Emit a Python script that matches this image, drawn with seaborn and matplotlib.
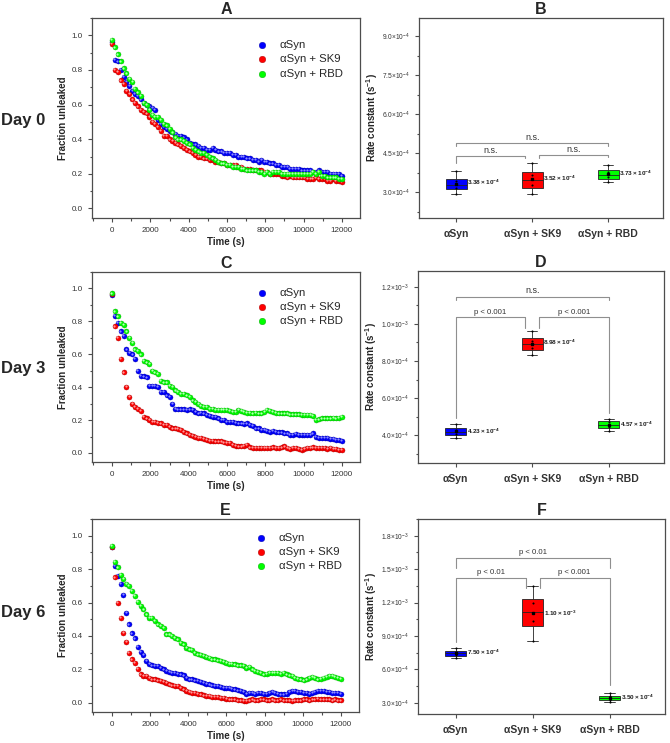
import numpy as np
import pandas as pd
import matplotlib
matplotlib.use("Agg")
import matplotlib.pyplot as plt
import matplotlib.transforms as mtransforms
from matplotlib.ticker import MultipleLocator, FuncFormatter
import seaborn as sns

sns.set_style("ticks")
plt.rcParams["font.family"] = ["Liberation Sans", "DejaVu Sans"]
plt.rcParams["mathtext.fontset"] = "custom"
plt.rcParams["mathtext.rm"] = "Liberation Sans"
plt.rcParams["mathtext.bf"] = "Liberation Sans:bold"

# ---------------------------------------------------------
# DATA
# ---------------------------------------------------------
groups = ["αSyn", "αSyn + SK9", "αSyn + RBD"]
colors = ["#0000ff", "#ff0000", "#00ff00"]
edges = ["#0000a0", "#a00000", "#00a000"]
shines = ["#8c8cff", "#ff9a9a", "#b8ffb8"]

# leakage kinetics, one reading every 150 s from 0 to 12000 s
time_s = np.arange(0, 12001, 150)

day0_syn = [0.96, 0.86, 0.85, 0.80, 0.76, 0.73, 0.71, 0.68, 0.66, 0.65,
            0.63, 0.61, 0.60, 0.59, 0.58, 0.57, 0.51, 0.49, 0.47, 0.46,
            0.45, 0.44, 0.43, 0.42, 0.42, 0.41, 0.40, 0.38, 0.37, 0.37,
            0.36, 0.35, 0.35, 0.34, 0.34, 0.35, 0.34, 0.33, 0.33, 0.32,
            0.32, 0.32, 0.31, 0.31, 0.30, 0.30, 0.30, 0.29, 0.29, 0.28,
            0.28, 0.27, 0.28, 0.27, 0.27, 0.26, 0.26, 0.25, 0.25, 0.24,
            0.24, 0.24, 0.23, 0.23, 0.23, 0.23, 0.22, 0.22, 0.22, 0.22,
            0.21, 0.21, 0.22, 0.21, 0.21, 0.21, 0.20, 0.20, 0.20, 0.20, 0.19]
day0_sk9 = [0.95, 0.80, 0.79, 0.74, 0.72, 0.68, 0.66, 0.63, 0.61, 0.59,
            0.57, 0.56, 0.55, 0.53, 0.50, 0.49, 0.47, 0.45, 0.42, 0.42,
            0.40, 0.39, 0.38, 0.37, 0.36, 0.35, 0.34, 0.33, 0.32, 0.31,
            0.30, 0.30, 0.29, 0.29, 0.28, 0.28, 0.27, 0.27, 0.26, 0.26,
            0.25, 0.25, 0.25, 0.25, 0.24, 0.24, 0.23, 0.23, 0.23, 0.22,
            0.22, 0.22, 0.22, 0.21, 0.21, 0.20, 0.20, 0.20, 0.20, 0.19,
            0.19, 0.18, 0.19, 0.18, 0.18, 0.18, 0.18, 0.18, 0.17, 0.17,
            0.17, 0.18, 0.17, 0.17, 0.17, 0.16, 0.16, 0.17, 0.16, 0.16, 0.155]
day0_rbd = [0.975, 0.93, 0.89, 0.85, 0.81, 0.78, 0.75, 0.73, 0.69, 0.67,
            0.65, 0.61, 0.60, 0.57, 0.54, 0.53, 0.53, 0.51, 0.49, 0.48,
            0.46, 0.44, 0.41, 0.40, 0.40, 0.39, 0.38, 0.37, 0.35, 0.34,
            0.33, 0.32, 0.32, 0.31, 0.30, 0.29, 0.28, 0.27, 0.26, 0.26,
            0.25, 0.25, 0.24, 0.24, 0.24, 0.23, 0.23, 0.22, 0.22, 0.22,
            0.22, 0.21, 0.21, 0.20, 0.21, 0.20, 0.21, 0.21, 0.21, 0.20,
            0.20, 0.20, 0.20, 0.20, 0.20, 0.20, 0.20, 0.20, 0.20, 0.20,
            0.21, 0.20, 0.21, 0.19, 0.19, 0.18, 0.18, 0.18, 0.18, 0.17, 0.17]

day3_syn = [0.96, 0.835, 0.79, 0.74, 0.71, 0.63, 0.61, 0.60, 0.57, 0.50,
            0.47, 0.465, 0.46, 0.41, 0.41, 0.41, 0.40, 0.37, 0.37, 0.35,
            0.34, 0.30, 0.27, 0.265, 0.265, 0.265, 0.26, 0.265, 0.26, 0.25,
            0.24, 0.245, 0.24, 0.23, 0.225, 0.22, 0.22, 0.21, 0.20, 0.20,
            0.19, 0.19, 0.19, 0.185, 0.18, 0.18, 0.175, 0.18, 0.17, 0.165,
            0.15, 0.15, 0.14, 0.14, 0.135, 0.13, 0.135, 0.13, 0.125, 0.125,
            0.12, 0.12, 0.11, 0.11, 0.115, 0.11, 0.11, 0.11, 0.11, 0.11,
            0.12, 0.10, 0.09, 0.09, 0.09, 0.09, 0.085, 0.085, 0.08, 0.08, 0.075]
day3_sk9 = [0.965, 0.77, 0.70, 0.57, 0.49, 0.40, 0.34, 0.30, 0.28, 0.27,
            0.255, 0.22, 0.21, 0.20, 0.19, 0.19, 0.185, 0.18, 0.17, 0.17,
            0.16, 0.15, 0.15, 0.145, 0.14, 0.13, 0.12, 0.11, 0.105, 0.10,
            0.09, 0.09, 0.085, 0.08, 0.075, 0.075, 0.07, 0.07, 0.07, 0.065,
            0.06, 0.06, 0.05, 0.045, 0.04, 0.04, 0.045, 0.05, 0.035, 0.03,
            0.03, 0.03, 0.03, 0.03, 0.03, 0.03, 0.035, 0.03, 0.03, 0.035,
            0.04, 0.03, 0.025, 0.03, 0.03, 0.025, 0.02, 0.025, 0.03, 0.03,
            0.035, 0.03, 0.03, 0.03, 0.03, 0.025, 0.03, 0.025, 0.025, 0.02, 0.02]
day3_rbd = [0.97, 0.86, 0.83, 0.79, 0.78, 0.74, 0.70, 0.67, 0.63, 0.62,
            0.60, 0.56, 0.55, 0.54, 0.50, 0.49, 0.48, 0.44, 0.43, 0.43,
            0.41, 0.40, 0.38, 0.37, 0.36, 0.36, 0.35, 0.34, 0.32, 0.31,
            0.30, 0.285, 0.28, 0.28, 0.27, 0.27, 0.26, 0.26, 0.26, 0.26,
            0.26, 0.255, 0.25, 0.25, 0.26, 0.255, 0.25, 0.245, 0.245, 0.24,
            0.245, 0.24, 0.24, 0.25, 0.26, 0.255, 0.25, 0.245, 0.24, 0.24,
            0.24, 0.24, 0.235, 0.235, 0.235, 0.235, 0.23, 0.23, 0.23, 0.23,
            0.225, 0.20, 0.205, 0.21, 0.21, 0.21, 0.21, 0.215, 0.21, 0.215, 0.22]

day6_syn = [0.93, 0.82, 0.76, 0.71, 0.645, 0.54, 0.47, 0.415, 0.385, 0.335,
            0.305, 0.285, 0.25, 0.235, 0.225, 0.22, 0.22, 0.21, 0.20, 0.19,
            0.185, 0.18, 0.18, 0.175, 0.17, 0.165, 0.15, 0.14, 0.14, 0.135,
            0.13, 0.125, 0.12, 0.115, 0.11, 0.105, 0.10, 0.10, 0.095, 0.09,
            0.09, 0.09, 0.085, 0.08, 0.075, 0.07, 0.065, 0.055, 0.06, 0.06,
            0.055, 0.06, 0.06, 0.055, 0.055, 0.06, 0.065, 0.06, 0.055, 0.05,
            0.05, 0.055, 0.065, 0.07, 0.07, 0.065, 0.065, 0.06, 0.06, 0.055,
            0.06, 0.065, 0.07, 0.07, 0.07, 0.065, 0.065, 0.06, 0.06, 0.06, 0.055]
day6_sk9 = [0.93, 0.75, 0.60, 0.51, 0.42, 0.365, 0.30, 0.26, 0.24, 0.205,
            0.17, 0.16, 0.16, 0.15, 0.14, 0.14, 0.135, 0.13, 0.125, 0.12,
            0.11, 0.105, 0.10, 0.10, 0.09, 0.08, 0.07, 0.065, 0.06, 0.06,
            0.055, 0.05, 0.045, 0.04, 0.04, 0.035, 0.035, 0.035, 0.03, 0.03,
            0.025, 0.02, 0.02, 0.02, 0.015, 0.015, 0.01, 0.01, 0.015, 0.02,
            0.015, 0.015, 0.02, 0.02, 0.015, 0.015, 0.02, 0.015, 0.015, 0.02,
            0.015, 0.015, 0.015, 0.01, 0.015, 0.015, 0.015, 0.02, 0.02, 0.015,
            0.02, 0.02, 0.025, 0.02, 0.02, 0.02, 0.02, 0.015, 0.02, 0.015, 0.015]
day6_rbd = [0.94, 0.845, 0.81, 0.765, 0.74, 0.71, 0.70, 0.67, 0.64, 0.605,
            0.58, 0.56, 0.53, 0.51, 0.51, 0.49, 0.47, 0.46, 0.45, 0.41,
            0.41, 0.40, 0.39, 0.38, 0.36, 0.35, 0.33, 0.32, 0.315, 0.30,
            0.29, 0.285, 0.28, 0.275, 0.27, 0.26, 0.26, 0.255, 0.25, 0.245,
            0.24, 0.235, 0.235, 0.23, 0.225, 0.225, 0.22, 0.21, 0.215, 0.20,
            0.19, 0.185, 0.18, 0.17, 0.175, 0.18, 0.18, 0.18, 0.18, 0.175,
            0.18, 0.17, 0.165, 0.16, 0.15, 0.145, 0.14, 0.135, 0.14, 0.15,
            0.155, 0.15, 0.14, 0.145, 0.15, 0.155, 0.16, 0.16, 0.155, 0.15, 0.145]

# rate constants (s^-1), individual replicates per sample
day0_rates = [[2.91e-4, 3.16e-4, 3.41e-4, 3.81e-4],
              [2.91e-4, 3.26e-4, 3.66e-4, 4.10e-4],
              [3.37e-4, 3.56e-4, 3.76e-4, 4.05e-4]]
day3_rates = [[3.86e-4, 4.05e-4, 4.28e-4, 4.61e-4],
              [8.33e-4, 8.69e-4, 9.09e-4, 9.64e-4],
              [4.25e-4, 4.44e-4, 4.70e-4, 4.89e-4]]
day6_rates = [[7.03e-4, 7.30e-4, 7.56e-4, 7.92e-4],
              [8.55e-4, 10.38e-4, 11.99e-4, 13.47e-4],
              [3.12e-4, 3.28e-4, 3.59e-4, 3.86e-4]]

# reported means
day0_means = [3.38e-4, 3.52e-4, 3.73e-4]
day3_means = [4.23e-4, 8.98e-4, 4.57e-4]
day6_means = [7.50e-4, 1.10e-3, 3.50e-4]

# significance brackets: (x from, x to, bar height, left leg end, right leg end, label)
day0_sig = [(0, 2, 4.88e-4, 4.77e-4, 4.77e-4, "n.s."),
            (0, 0.91, 4.38e-4, 4.10e-4, 4.32e-4, "n.s."),
            (1.09, 2, 4.42e-4, 4.32e-4, 4.35e-4, "n.s.")]
day3_sig = [(0, 2, 1.146e-3, 1.128e-3, 1.128e-3, "n.s."),
            (0, 0.91, 1.035e-3, 4.93e-4, 9.8e-4, "p < 0.001"),
            (1.09, 2, 1.035e-3, 9.8e-4, 5.2e-4, "p < 0.001")]
day6_sig = [(0, 2, 1.603e-3, 1.514e-3, 1.514e-3, "p < 0.01"),
            (0, 0.91, 1.424e-3, 8.5e-4, 1.329e-3, "p < 0.01"),
            (1.09, 2, 1.424e-3, 1.329e-3, 4.64e-4, "p < 0.001")]

# ---------------------------------------------------------
# FIGURE
# ---------------------------------------------------------
W, H = 670, 743
fig = plt.figure(figsize=(W / 100, H / 100), dpi=100)
SPINE = "#4d4d4d"


def px_axes(x0, y0, x1, y1):
    return fig.add_axes([x0 / W, 1 - y1 / H, (x1 - x0) / W, (y1 - y0) / H])


def style_frame(ax):
    for sp in ax.spines.values():
        sp.set_visible(True)
        sp.set_color(SPINE)
        sp.set_linewidth(0.9)
    ax.tick_params(which="both", direction="out", color=SPINE, width=0.8,
                   labelcolor="#333333")
    ax.tick_params(which="major", length=3)
    ax.tick_params(which="minor", length=1.8)


def sci_tick(v, pos=None):
    if v <= 0:
        return ""
    e = int(np.floor(np.log10(v) + 1e-9))
    return rf"${v / 10 ** e:.1f}{{\times}}10^{{{e}}}$"


def draw_kinetics(ax, series, title, legend_y):
    # small light spot up-left on every ball, like the shaded markers of the original
    shine = ax.transData + mtransforms.ScaledTranslation(-0.5 / 72, 0.5 / 72,
                                                         fig.dpi_scale_trans)
    for name, vals, c, ec, sc in zip(groups, series, colors, edges, shines):
        sns.scatterplot(x=time_s, y=vals, color=c, edgecolor=ec, linewidth=0.3,
                        s=13, label=name, ax=ax, zorder=3)
        sns.scatterplot(x=time_s, y=vals, color=sc, linewidth=0, s=2.5,
                        ax=ax, zorder=3, transform=shine, legend=False)
    ax.set_xlim(-1050, 12950)
    ax.set_ylim(-0.055, 1.1)
    ax.xaxis.set_major_locator(MultipleLocator(2000))
    ax.xaxis.set_minor_locator(MultipleLocator(1000))
    ax.yaxis.set_major_locator(MultipleLocator(0.2))
    ax.yaxis.set_minor_locator(MultipleLocator(0.1))
    ax.yaxis.set_major_formatter(FuncFormatter(lambda v, p: f"{v:.1f}"))
    style_frame(ax)
    ax.tick_params(labelsize=5.8)
    ax.set_xlabel("Time (s)", fontsize=7, fontweight="bold", labelpad=2)
    ax.set_ylabel("Fraction unleaked", fontsize=7, fontweight="bold", labelpad=3)
    ax.set_title(title, fontsize=11.5, fontweight="bold", pad=3)
    h, l = ax.get_legend_handles_labels()
    ax.legend(h[:3], l[:3], frameon=False, loc="upper right",
              bbox_to_anchor=(0.965, legend_y), fontsize=8.2, handletextpad=0.55,
              labelspacing=0.38, borderaxespad=0.3, markerscale=1.3)


def draw_rates(ax, rates, means, ylim, major, title, sig):
    df = pd.DataFrame({"Sample": np.repeat(groups, [len(r) for r in rates]),
                       "k": np.concatenate(rates)})
    sns.boxplot(data=df, x="Sample", y="k", hue="Sample", order=groups,
                hue_order=groups, palette=colors, saturation=1, width=0.27,
                whis=(0, 100), showmeans=True, linecolor="#222222", linewidth=0.6,
                meanprops=dict(marker="s", markerfacecolor="black",
                               markeredgecolor="black", markersize=1.6),
                legend=False, ax=ax)
    sns.stripplot(data=df, x="Sample", y="k", order=groups, color="black",
                  size=1.5, jitter=False, ax=ax, zorder=4)
    for i, m in enumerate(means):
        e = int(np.floor(np.log10(m) + 1e-9))
        ax.text(i + 0.145, m, rf"$\mathbf{{{m / 10 ** e:.2f}\times10^{{{e}}}}}$",
                fontsize=4.6, ha="left", va="center", color="#222222")
    span = ylim[1] - ylim[0]
    for x1, x2, y, y1, y2, txt in sig:
        ax.plot([x1, x1, x2, x2], [y1, y, y, y2], color="#8f8f8f", lw=0.8)
        ax.text((x1 + x2) / 2, y + span * 0.008, txt, ha="center", va="bottom",
                fontsize=6.5 if txt == "n.s." else 5.6, color="#333333")
    ax.set_xlim(-0.49, 2.72)
    ax.set_ylim(*ylim)
    ax.yaxis.set_major_locator(MultipleLocator(major))
    ax.yaxis.set_minor_locator(MultipleLocator(major / 2))
    ax.yaxis.set_major_formatter(FuncFormatter(sci_tick))
    style_frame(ax)
    ax.tick_params(axis="y", labelsize=4.8)
    ax.tick_params(axis="x", labelsize=7.5, pad=5)
    for lab in ax.get_xticklabels():
        lab.set_fontweight("bold")
    ax.set_xlabel("")
    ax.set_ylabel(r"Rate constant (s$^{\mathbf{-1}}$)", fontsize=7,
                  fontweight="bold", labelpad=1.5)
    ax.set_title(title, fontsize=11.5, fontweight="bold", pad=3)


axA = px_axes(92, 18, 360, 218)
axB = px_axes(419, 18, 663, 218)
axC = px_axes(92, 272, 360, 462)
axD = px_axes(418, 271, 664, 463)
axE = px_axes(92, 519, 359, 712)
axF = px_axes(418, 519, 665, 714)

draw_kinetics(axA, [day0_syn, day0_sk9, day0_rbd], "A", 0.93)
draw_kinetics(axC, [day3_syn, day3_sk9, day3_rbd], "C", 0.96)
draw_kinetics(axE, [day6_syn, day6_sk9, day6_rbd], "E", 0.97)

draw_rates(axB, day0_rates, day0_means, (2.0e-4, 9.7e-4), 1.5e-4, "B", day0_sig)
draw_rates(axD, day3_rates, day3_means, (2.5e-4, 1.285e-3), 2.0e-4, "D", day3_sig)
draw_rates(axF, day6_rates, day6_means, (2.0e-4, 1.95e-3), 3.0e-4, "F", day6_sig)

for label, y in [("Day 0", 120), ("Day 3", 369), ("Day 6", 613)]:
    fig.text(1 / W, 1 - y / H, label, fontsize=12, fontweight="bold",
             ha="left", va="center")

fig.savefig("out.png", dpi=100)
plt.close(fig)
